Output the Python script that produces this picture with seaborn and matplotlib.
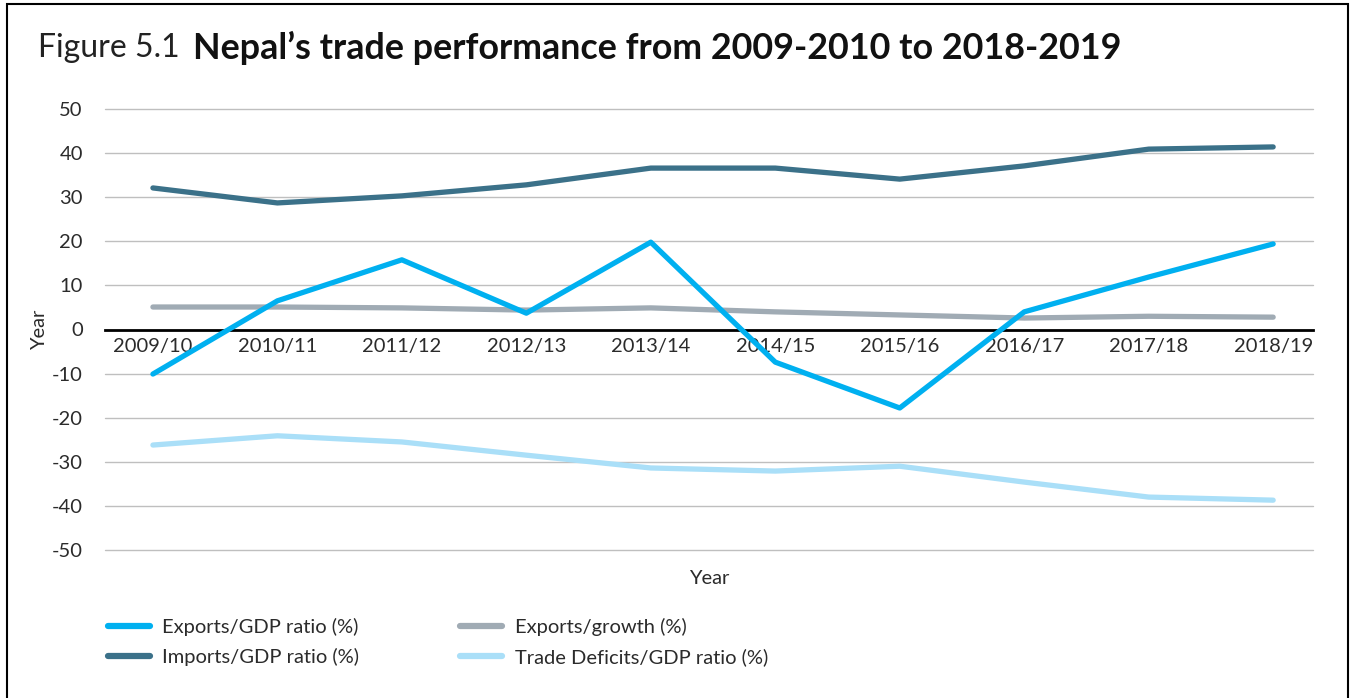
import pandas as pd
import numpy as np
import seaborn as sns
import matplotlib.pyplot as plt
from matplotlib.patches import Rectangle

years = ['2009/10', '2010/11', '2011/12', '2012/13', '2013/14',
         '2014/15', '2015/16', '2016/17', '2017/18', '2018/19']
exports_gdp = [-10.1, 6.5, 15.8, 3.7, 19.8, -7.4, -17.8, 4.0, 11.9, 19.4]
exports_growth = [5.1, 5.1, 4.9, 4.4, 4.9, 4.0, 3.3, 2.6, 3.0, 2.8]
imports_gdp = [32.1, 28.7, 30.3, 32.8, 36.6, 36.6, 34.1, 37.1, 40.9, 41.4]
trade_deficit = [-26.2, -24.1, -25.5, -28.5, -31.4, -32.1, -31.0, -34.6, -38.0, -38.7]

series = {
    'Imports/GDP ratio (%)': imports_gdp,
    'Trade Deficits/GDP ratio (%)': trade_deficit,
    'Exports/growth (%)': exports_growth,
    'Exports/GDP ratio (%)': exports_gdp,
}
colors = {
    'Exports/GDP ratio (%)': '#00B0F0',
    'Imports/GDP ratio (%)': '#3B7189',
    'Exports/growth (%)': '#A0ABB4',
    'Trade Deficits/GDP ratio (%)': '#AADFF8',
}

rows = []
for name, vals in series.items():
    for i, v in enumerate(vals):
        rows.append({'pos': i, 'value': v, 'series': name})
df = pd.DataFrame(rows)

sns.set_style('white')
plt.rcParams['font.family'] = ['Lato', 'DejaVu Sans']
plt.rcParams['axes.unicode_minus'] = False

fig = plt.figure(figsize=(13.54, 6.98), dpi=100)
ax = fig.add_axes([105/1354, 1-550/698, (1313-105)/1354, (550-109)/698])

sns.lineplot(data=df, x='pos', y='value', hue='series', palette=colors,
             linewidth=3.8, ax=ax, legend=False, solid_capstyle='round')

ax.set_ylim(-50, 50)
ax.set_xlim(-0.385, 9.32)
ax.set_yticks(np.arange(-50, 51, 10))
ax.set_xticks(range(len(years)))
ax.set_xticklabels(years)
ax.grid(axis='y', color='#BFBFBF', linewidth=1)
for gl in ax.get_ygridlines():
    gl.set_clip_on(False)
ax.set_axisbelow(True)
for s in ['top', 'right', 'left']:
    ax.spines[s].set_visible(False)
ax.spines['bottom'].set_position(('data', 0))
ax.spines['bottom'].set_color('black')
ax.spines['bottom'].set_linewidth(2)
ax.spines['bottom'].set_zorder(1.5)
ax.tick_params(axis='both', length=0, labelsize=14.5, colors='#2b2b2b')
ax.tick_params(axis='x', pad=6)
ax.tick_params(axis='y', pad=16)

ax.set_ylabel('Year', fontsize=14.5, color='#2b2b2b')
ax.yaxis.set_label_coords(-0.047, 0.5)
ax.set_xlabel('Year', fontsize=14.5, color='#2b2b2b')
ax.xaxis.set_label_coords(0.5, -0.045)

fig.text(38/1354, 1-48/698, 'Figure 5.1', fontsize=23,
         va='center', ha='left', color='#222222')
fig.text(193/1354, 1-48/698, 'Nepal\u2019s trade performance from 2009-2010 to 2018-2019',
         fontsize=25.8, fontweight='bold', va='center', ha='left', color='#111111')

order = ['Exports/GDP ratio (%)', 'Imports/GDP ratio (%)',
         'Exports/growth (%)', 'Trade Deficits/GDP ratio (%)']
handles = [plt.Line2D([], [], color=colors[n], linewidth=4.5, solid_capstyle='round') for n in order]
leg = fig.legend(handles, order, ncol=2, loc='upper left',
                 bbox_to_anchor=(90/1354, 1-600/698), frameon=False,
                 fontsize=14.5, handlelength=2.1, handletextpad=0.6,
                 columnspacing=5.0, labelspacing=0.6)
for t in leg.get_texts():
    t.set_color('#2b2b2b')

fig.patches.append(Rectangle((7/1354, -0.05), (1348-7)/1354, 1.05-4/698,
                             transform=fig.transFigure, fill=False,
                             edgecolor='black', linewidth=1.5))

fig.savefig('out.png', dpi=100)
